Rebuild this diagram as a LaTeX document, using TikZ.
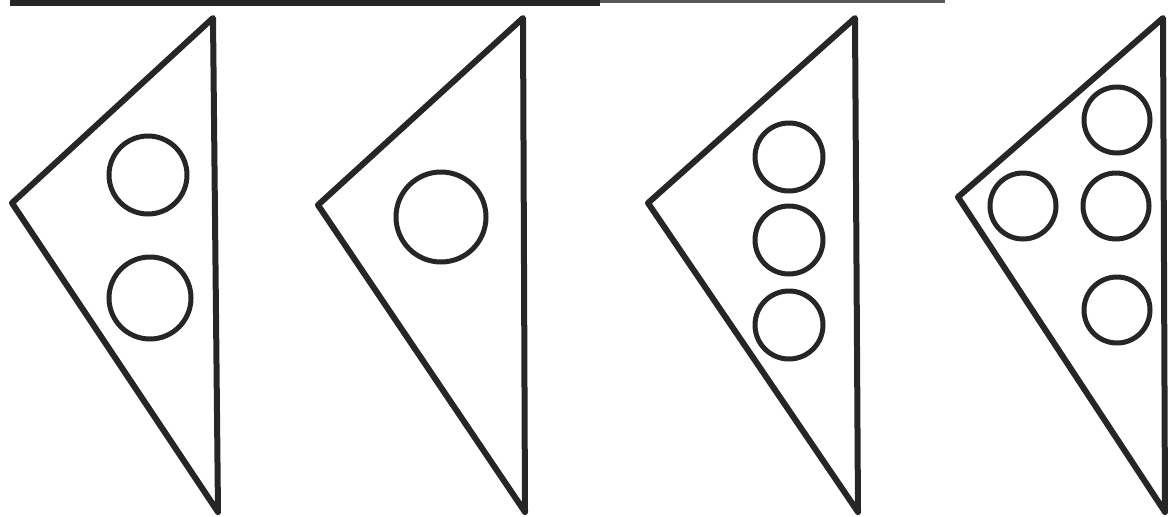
\documentclass[tikz,border=0pt]{standalone}
\usepackage{tikz}

\begin{document}
\begin{tikzpicture}[x=1pt, y=-1pt,
  edge/.style={line width=6pt, line join=round, black!85},
  hole/.style={line width=5pt, black!85}]
\useasboundingbox (0,0) rectangle (1168,517);
\clip (0,0) rectangle (1168,517);
% rule along the top
\draw[line width=7pt, black!85] (10,2) -- (600,2);
\draw[line width=4pt, black!65] (600,1) -- (945,1);
% the four triangles: apex, left corner, foot
\foreach \t/\l/\m/\b in {213/12/203/218, 523/318/205/525, 855/648/203/858, 1163/958/197/1165} {
  \coordinate (apex) at (\t,18);
  \draw[edge] (apex) -- (\l,\m) -- (\b,512) -- cycle;
}
% circles, triangle 1
\draw[hole] (148,175) circle (39);
\draw[hole] (150,298) circle (41);
% circle, triangle 2
\draw[hole] (441,217) circle (45);
% circles, triangle 3
\foreach \y in {157,240,325} { \draw[hole] (789,\y) circle (34); }
% circles, triangle 4
\draw[hole] (1117,120) circle (33);
\draw[hole] (1023,206) circle (33);
\draw[hole] (1116,206) circle (33);
\draw[hole] (1117,310) circle (33);
\end{tikzpicture}
\end{document}
